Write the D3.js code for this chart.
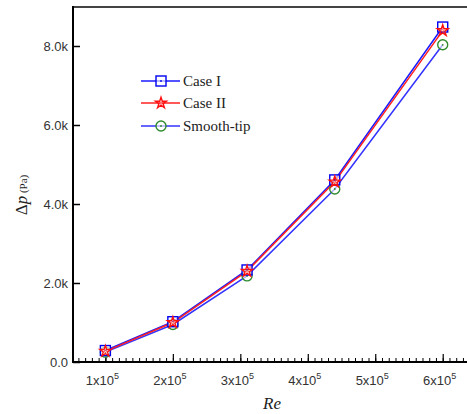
<!DOCTYPE html>
<html><head><meta charset="utf-8">
<script src="https://cdn.jsdelivr.net/npm/d3@7"></script>
<style>body{margin:0;background:#fff}svg{display:block}</style>
</head><body>
<script>
const reValues = [1.0e5, 2.0e5, 3.1e5, 4.4e5, 6.0e5];
const caseI = [290, 1020, 2330, 4610, 8480];
const caseII = [270, 1000, 2300, 4560, 8390];
const smoothTip = [250, 950, 2180, 4380, 8030];
const seriesNames = ["Case I", "Case II", "Smooth-tip"];
const yTicks = [0, 2000, 4000, 6000, 8000];
const yTickLabels = ["0.0", "2.0k", "4.0k", "6.0k", "8.0k"];
const xTicks = [1e5, 2e5, 3e5, 4e5, 5e5, 6e5];
const xTickLabels = ["1", "2", "3", "4", "5", "6"];

const W = 467, H = 414;
const svg = d3.select("body").append("svg").attr("width", W).attr("height", H);
const L = 73, R = 467, T = 7, B = 362;
const x = d3.scaleLinear().domain([0.52e5, 6.36e5]).range([L, R]);
const y = d3.scaleLinear().domain([0, 8000]).range([B, 46]);

// frame
svg.append("line").attr("x1", L).attr("x2", R).attr("y1", T).attr("y2", T).attr("stroke", "#444").attr("stroke-width", 2);
svg.append("line").attr("x1", L).attr("x2", L).attr("y1", T - 1).attr("y2", B + 1).attr("stroke", "#000").attr("stroke-width", 2);
svg.append("line").attr("x1", L - 1).attr("x2", R).attr("y1", B).attr("y2", B).attr("stroke", "#000").attr("stroke-width", 2);

// y ticks
const yAxis = d3.axisRight(y).tickValues(yTicks).tickSize(7).tickFormat(() => "");
const gy = svg.append("g").attr("transform", `translate(${L},0)`).call(yAxis);
gy.select(".domain").remove();
gy.selectAll("line").attr("stroke", "#000").attr("stroke-width", 1.5);
svg.selectAll(".ylab").data(yTicks).enter().append("text")
  .attr("x", L - 5).attr("y", d => y(d) + 5).attr("text-anchor", "end")
  .attr("font-family", "Liberation Sans, Arial, sans-serif").attr("font-size", 13).attr("fill", "#333")
  .text((d, i) => yTickLabels[i]);

// x minor ticks
const minor = d3.range(1, 64).map(i => i * 1e4).filter(v => x(v) > L + 2 && x(v) < R);
const xMinor = d3.axisTop(x).tickValues(minor).tickSize(4).tickFormat(() => "");
const gxm = svg.append("g").attr("transform", `translate(0,${B})`).call(xMinor);
gxm.select(".domain").remove();
gxm.selectAll("line").attr("stroke", "#000").attr("stroke-width", 1);
const xMajor = d3.axisTop(x).tickValues(xTicks).tickSize(8).tickFormat(() => "");
const gx = svg.append("g").attr("transform", `translate(0,${B})`).call(xMajor);
gx.select(".domain").remove();
gx.selectAll("line").attr("stroke", "#000").attr("stroke-width", 1.2);
const xl = svg.selectAll(".xlab").data(xTicks).enter().append("text")
  .attr("x", d => x(d) - 3).attr("y", B + 23).attr("text-anchor", "middle")
  .attr("font-family", "Liberation Sans, Arial, sans-serif").attr("font-size", 13).attr("fill", "#333");
xl.append("tspan").text((d, i) => xTickLabels[i] + "x10");
xl.append("tspan").attr("dy", -6).attr("font-size", 9).text("5");

// axis titles
svg.append("text").attr("x", 272).attr("y", 409).attr("text-anchor", "middle")
  .attr("font-family", "Liberation Serif, Times New Roman, serif").attr("font-style", "italic")
  .attr("font-size", 17).attr("fill", "#222").text("Re");
const yt = svg.append("text").attr("transform", "translate(27,195) rotate(-90)").attr("text-anchor", "middle")
  .attr("font-family", "Liberation Serif, Times New Roman, serif").attr("fill", "#222");
yt.append("tspan").attr("font-size", 17).text("Δ");
yt.append("tspan").attr("font-size", 17).attr("font-style", "italic").text("p");
yt.append("tspan").attr("font-size", 11).text(" (Pa)");

// series
const series = [
  {name: seriesNames[0], vals: caseI, line: "#1a1aff", mk: "#0000ee", shape: "square"},
  {name: seriesNames[1], vals: caseII, line: "#ff2020", mk: "#ff1010", shape: "star"},
  {name: seriesNames[2], vals: smoothTip, line: "#3333ff", mk: "#2e8b2e", shape: "circle"}
];
const line = d3.line().x(d => x(d[0])).y(d => y(d[1]));
function marker(g, s, cx, cy) {
  if (s.shape === "square") {
    g.append("rect").attr("x", cx - 5).attr("y", cy - 5).attr("width", 10).attr("height", 10)
      .attr("fill", "#fff").attr("fill-opacity", 0.6).attr("stroke", s.mk).attr("stroke-width", 1.4);
    g.append("circle").attr("cx", cx).attr("cy", cy).attr("r", 0.9).attr("fill", s.mk);
  } else if (s.shape === "star") {
    g.append("path").attr("transform", `translate(${cx},${cy})`)
      .attr("d", d3.symbol().type(d3.symbolStar).size(38)())
      .attr("fill", "none").attr("stroke", s.mk).attr("stroke-width", 1.4);
    g.append("circle").attr("cx", cx).attr("cy", cy).attr("r", 1).attr("fill", "#fff").attr("stroke", s.mk).attr("stroke-width", 0.6);
  } else {
    g.append("circle").attr("cx", cx).attr("cy", cy).attr("r", 5).attr("fill", "#fff").attr("fill-opacity", 0.6)
      .attr("stroke", s.mk).attr("stroke-width", 1.4);
    g.append("circle").attr("cx", cx).attr("cy", cy).attr("r", 0.9).attr("fill", s.mk);
  }
}
const order = [2, 0, 1];
order.forEach(i => {
  const s = series[i];
  svg.append("path").datum(reValues.map((r, k) => [r, s.vals[k]]))
    .attr("d", line).attr("fill", "none").attr("stroke", s.line).attr("stroke-width", 1.5);
});
order.forEach(i => {
  const s = series[i];
  const g = svg.append("g");
  reValues.forEach((r, k) => marker(g, s, x(r), y(s.vals[k])));
});

// legend
const legY = [81, 103, 126];
series.forEach((s, i) => {
  const g = svg.append("g");
  g.append("line").attr("x1", 141).attr("x2", 180).attr("y1", legY[i]).attr("y2", legY[i])
    .attr("stroke", s.line).attr("stroke-width", 1.5);
  marker(g, s, 161, legY[i]);
  g.append("text").attr("x", 183).attr("y", legY[i] + 5)
    .attr("font-family", "Liberation Serif, Times New Roman, serif").attr("font-size", 15).attr("fill", "#222")
    .text(s.name);
});
</script>
</body></html>
